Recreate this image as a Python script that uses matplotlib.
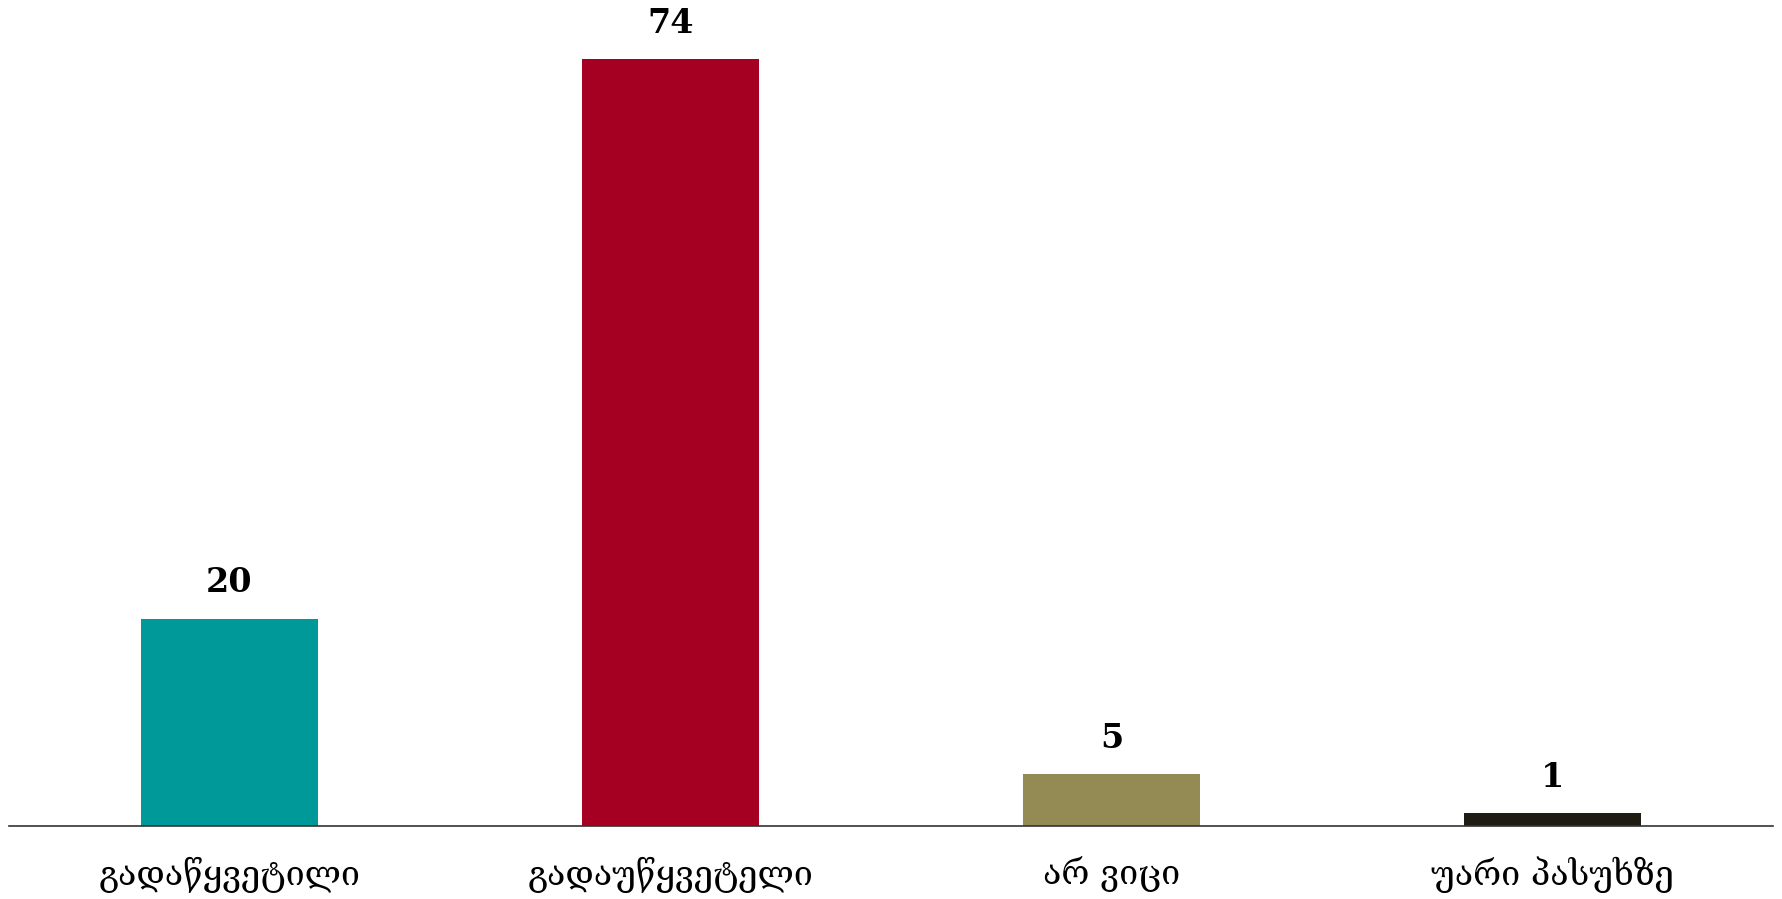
import matplotlib
matplotlib.use("Agg")
import matplotlib.pyplot as plt

# data
categories = ["გადაწყვეტილი", "გადაუწყვეტელი", "არ ვიცი", "უარი პასუხზე"]
values = [20, 74, 5, 1.25]
colors = ["#009999", "#A50021", "#948B54", "#1F1D13"]

plt.rcParams['font.family'] = ['DejaVu Serif', 'DejaVu Sans']

fig = plt.figure(figsize=(17.83, 8.99), dpi=100)
ax = fig.add_axes([9 / 1783, 73 / 899, 1764 / 1783, 826 / 899])

x = range(len(categories))
bars = ax.bar(x, values, width=0.4, color=colors)

for b, v in zip(bars, values):
    ax.annotate(f"{v:.0f}", (b.get_x() + b.get_width() / 2, b.get_height()),
                xytext=(0, 14), textcoords="offset points",
                ha="center", va="bottom", fontsize=24, fontweight="bold")

ax.set_xlim(-0.5, 3.5)
ax.set_ylim(0, 79.7)
ax.set_xticks(list(x))
ax.set_xticklabels(categories, fontsize=24.5)
ax.tick_params(axis="x", length=0, pad=22)
ax.set_yticks([])
for s in ["top", "right", "left"]:
    ax.spines[s].set_visible(False)
ax.spines["bottom"].set_color("#333333")
ax.spines["bottom"].set_linewidth(1.2)

fig.savefig("out.png", dpi=100)
